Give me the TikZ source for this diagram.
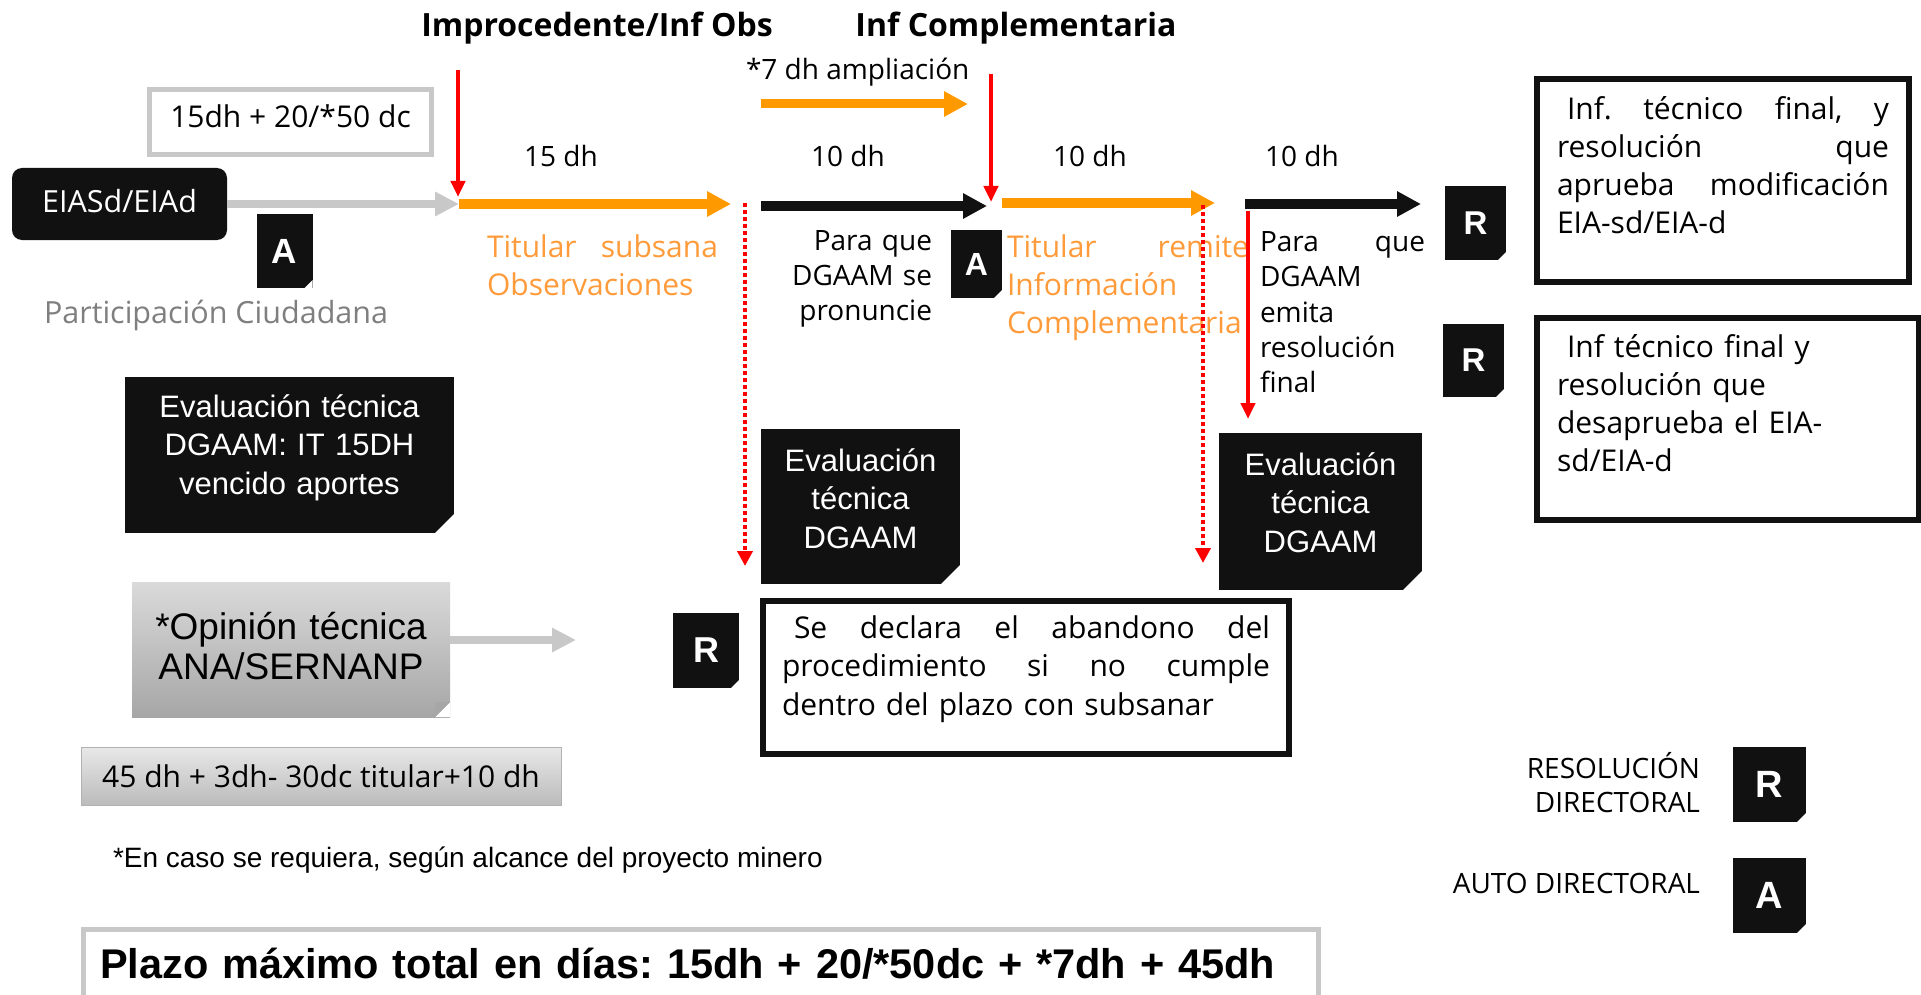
\documentclass[tikz,border=0pt]{standalone}
\usepackage{fontspec}
\setmainfont{Open Sans}
\newfontfamily\arialf{Liberation Sans}
\usetikzlibrary{arrows.meta}
\definecolor{nb}{HTML}{111111}
\definecolor{lgray}{HTML}{C8C8C8}
\definecolor{ptxt}{HTML}{7F7F7F}
\definecolor{orarr}{HTML}{FF9900}
\definecolor{ortxt}{HTML}{FF9B3A}
\definecolor{redc}{HTML}{FF0000}
\definecolor{opt}{HTML}{DADADA}
\definecolor{opb}{HTML}{A6A6A6}
\definecolor{bev1}{HTML}{E8E8E8}
\definecolor{bev2}{HTML}{BBBBBB}
\newcommand{\setfs}[2]{\fontsize{#1}{#2}\selectfont}
\newcommand{\jline}[2]{\leavevmode\hbox to #1{#2}}
\tikzset{
  snip/.style={path picture={\fill[white] ([xshift=-#1]path picture bounding box.south east) -- (path picture bounding box.south east) -- ([yshift=#1]path picture bounding box.south east) -- cycle;}},
  fold/.style={path picture={\fill[white] ([xshift=-#1]path picture bounding box.south east) -- (path picture bounding box.south east) -- ([yshift=#1]path picture bounding box.south east) -- cycle;
    \fill[gray!70] ([xshift=-#1]path picture bounding box.south east) -- ([yshift=#1]path picture bounding box.south east) -- ([xshift=-#1,yshift=#1]path picture bounding box.south east) -- cycle;}},
  badge/.style={rectangle, fill=nb, text=white, snip=8pt},
  blackbox/.style={rectangle, fill=nb, text=white, snip=19pt, align=center, font=\arialf\setfs{31}{38.5}},
  framebox/.style={rectangle, draw=nb, line width=6pt, inner xsep=20pt, inner ysep=0pt, align=left, font=\setfs{30}{38}},
  garrow/.style={draw=lgray, line width=8pt, -{Triangle[length=24pt,width=23pt]}},
  oarrow/.style={draw=orarr, line width=9pt, -{Triangle[length=24pt,width=24pt]}},
  karrow/.style={draw=nb, line width=9pt, -{Triangle[length=24pt,width=24pt]}},
  rarrow/.style={draw=redc, line width=4pt, -{Triangle[length=16pt,width=14pt]}},
  rdot/.style={draw=redc, line width=4pt, dash pattern=on 4pt off 3pt, -{Triangle[length=15pt,width=15pt]}},
  lbl/.style={font=\setfs{28}{28}}
}
\begin{document}
\begin{tikzpicture}[x=1pt,y=-1pt,inner sep=0pt,outer sep=0pt]
\useasboundingbox (0,0) rectangle (1921,995);
\fill[white] (0,0) rectangle (1921,995);

% top labels
\node[anchor=base, font=\bfseries\setfs{32}{32}] (improc) at (597,37) {Improcedente/Inf Obs};
\node[anchor=base, font=\bfseries\setfs{32}{32}] (infcomp) at (1016,37) {Inf Complementaria};
\node[anchor=base west, lbl] (ampl) at (746,80) {*7 dh ampliación};

% left column
\node[draw=lgray, line width=5pt, minimum width=282pt, minimum height=65pt, text height=23pt, text depth=11pt, font=\setfs{30}{30}] (plazo1) at (290.5,122) {15dh + 20/*50 dc};
\node[fill=nb, rounded corners=10pt, minimum width=215pt, minimum height=72pt, text height=22pt, text depth=6pt, text=white, font=\setfs{30.5}{30.5}] (eia) at (119.5,204) {EIASd/EIAd};
\node[badge, minimum width=56pt, minimum height=74pt, font=\arialf\bfseries\setfs{35}{35}] (a1) at (284.5,251) {A};
\node[anchor=base west, text=ptxt, font=\setfs{30.5}{30.5}] (part) at (44,323) {Participación Ciudadana};

\node[blackbox, text width=329pt, text height=40pt, text depth=116pt] (evalA) at (289.5,455) {Evaluación técnica\\DGAAM: IT 15DH\\vencido aportes};
\node[top color=opt, bottom color=opb, fold=15pt, text width=318pt, align=center, text height=57pt, text depth=78pt, font=\arialf\setfs{37}{40}] (opin) at (291,649.5) {*Opinión técnica\\ANA/SERNANP};
\node[top color=bev1, bottom color=bev2, draw=gray!60, line width=1pt, minimum width=480pt, text height=40pt, text depth=18pt, font=\setfs{30}{30}] (dur) at (321,776) {45 dh + 3dh- 30dc titular+10 dh};
\node[anchor=base west, font=\arialf\setfs{28}{28}] (nota) at (113,867) {*En caso se requiera, según alcance del proyecto minero};
\node[draw=lgray, line width=5pt, inner xsep=16.5pt, text width=1202pt, align=left, text height=48.5pt, text depth=42pt, font=\arialf\bfseries\setfs{41.5}{41.5}] (total) at (701,974.75) {\frenchspacing\mbox{Plazo máximo total en días: 15dh + 20/*50dc + *7dh + 45dh}};

% durations
\node[anchor=base, lbl] (d15) at (561,167) {15 dh};
\node[anchor=base, lbl] (d10a) at (848,167) {10 dh};
\node[anchor=base, lbl] (d10b) at (1090,167) {10 dh};
\node[anchor=base, lbl] (d10c) at (1302,167) {10 dh};

% middle texts
\node[anchor=base west, text width=231pt, align=left, text=ortxt, font=\setfs{30}{38}] (tsub) at (487,257) {\jline{231pt}{Titular\hfill subsana}\\Observaciones};
\node[anchor=base east, text width=160pt, align=right, font=\setfs{28}{35}] (pq1) at (932,250) {Para que\\DGAAM se\\pronuncie};
\node[badge, minimum width=51pt, minimum height=68pt, font=\arialf\bfseries\setfs{32}{32}] (a2) at (976.5,264) {A};
\node[anchor=base west, text width=242pt, align=left, text=ortxt, font=\setfs{30}{38}] (trem) at (1007,257) {\jline{242pt}{Titular\hfill remite}\\Información\\Complementaria};
\node[anchor=base west, text width=165pt, align=left, font=\setfs{28}{35.5}] (pq2) at (1260,251) {\jline{165pt}{Para\hfill que}\\DGAAM\\emita\\resolución\\final};

\node[blackbox, text width=199pt, text height=42pt, text depth=113pt] (evalB) at (860.5,506.5) {Evaluación\\técnica\\DGAAM};
\node[blackbox, text width=203pt, text height=42pt, text depth=115pt] (evalC) at (1320.5,511.5) {Evaluación\\técnica\\DGAAM};

\node[badge, minimum width=66pt, minimum height=75pt, font=\arialf\bfseries\setfs{36}{36}] (rab) at (706,650.5) {R};
\node[framebox, inner xsep=19pt, text width=488pt, text height=37pt, text depth=116pt, font=\setfs{30}{38.5}] (aband) at (1026,677.5) {\jline{488pt}{\hspace*{12pt}Se\hfill declara\hfill el\hfill abandono\hfill del}\\\jline{488pt}{procedimiento\hfill si\hfill no\hfill cumple}\\dentro del plazo con subsanar};

% right column
\node[badge, minimum width=61pt, minimum height=74pt, font=\arialf\bfseries\setfs{33}{33}] (r1) at (1475.5,223) {R};
\node[framebox, text width=332pt, text height=41pt, text depth=162pt] (fin1) at (1723,180.5) {\jline{332pt}{\hspace*{10pt}Inf.\hfill técnico\hfill final,\hfill y}\\\jline{332pt}{resolución\hfill que}\\\jline{332pt}{aprueba\hfill modificación}\\EIA-sd/EIA-d};
\node[badge, minimum width=61pt, minimum height=73pt, font=\arialf\bfseries\setfs{33}{33}] (r2) at (1473.5,360.5) {R};
\node[framebox, text width=342pt, text height=39pt, text depth=163pt] (fin2) at (1728,419) {\hspace*{10pt}Inf técnico final y\\resolución que\\desaprueba el EIA-\\sd/EIA-d};

% legend
\node[anchor=base east, text width=220pt, align=right, font=\setfs{28}{34}] (legR) at (1700,778) {RESOLUCIÓN\\DIRECTORAL};
\node[badge, snip=9pt, minimum width=73pt, minimum height=75pt, font=\arialf\bfseries\setfs{38}{38}] (rleg) at (1769.5,784.5) {R};
\node[anchor=base east, font=\setfs{28}{28}] (legA) at (1700,893) {AUTO DIRECTORAL};
\node[badge, snip=9pt, minimum width=73pt, minimum height=75pt, font=\arialf\bfseries\setfs{38}{38}] (aleg) at (1769.5,895.5) {A};

% connector end points
\coordinate (j1) at (459,204);
\coordinate (r1a) at (458,70);
\coordinate (r1b) at (458,197);
\coordinate (o1e) at (731,204);
\coordinate (k1s) at (761,206);
\coordinate (k1e) at (987,206);
\coordinate (a7s) at (761,104);
\coordinate (a7e) at (968,104);
\coordinate (r2a) at (991,74);
\coordinate (r2b) at (991,202);
\coordinate (o2s) at (1002,203);
\coordinate (o2e) at (1215,203);
\coordinate (k2s) at (1245,204);
\coordinate (k2e) at (1421,204);
\coordinate (r3a) at (1248,211);
\coordinate (r3b) at (1248,419);
\coordinate (d1a) at (745,203);
\coordinate (d1b) at (745,566);
\coordinate (d2a) at (1203,205);
\coordinate (d2b) at (1203,563);
\coordinate (g2e) at (576,640);

% connectors
\draw[garrow] (eia.east) -- (j1);
\draw[oarrow] (j1) -- (o1e);
\draw[karrow] (k1s) -- (k1e);
\draw[oarrow] (a7s) -- (a7e);
\draw[oarrow] (o2s) -- (o2e);
\draw[karrow] (k2s) -- (k2e);
\draw[garrow] (opin.east |- g2e) -- (g2e);
\draw[rarrow] (r1a) -- (r1b);
\draw[rarrow] (r2a) -- (r2b);
\draw[rarrow] (r3a) -- (r3b);
\draw[rdot] (d1a) -- (d1b);
\draw[rdot] (d2a) -- (d2b);
\end{tikzpicture}
\end{document}
